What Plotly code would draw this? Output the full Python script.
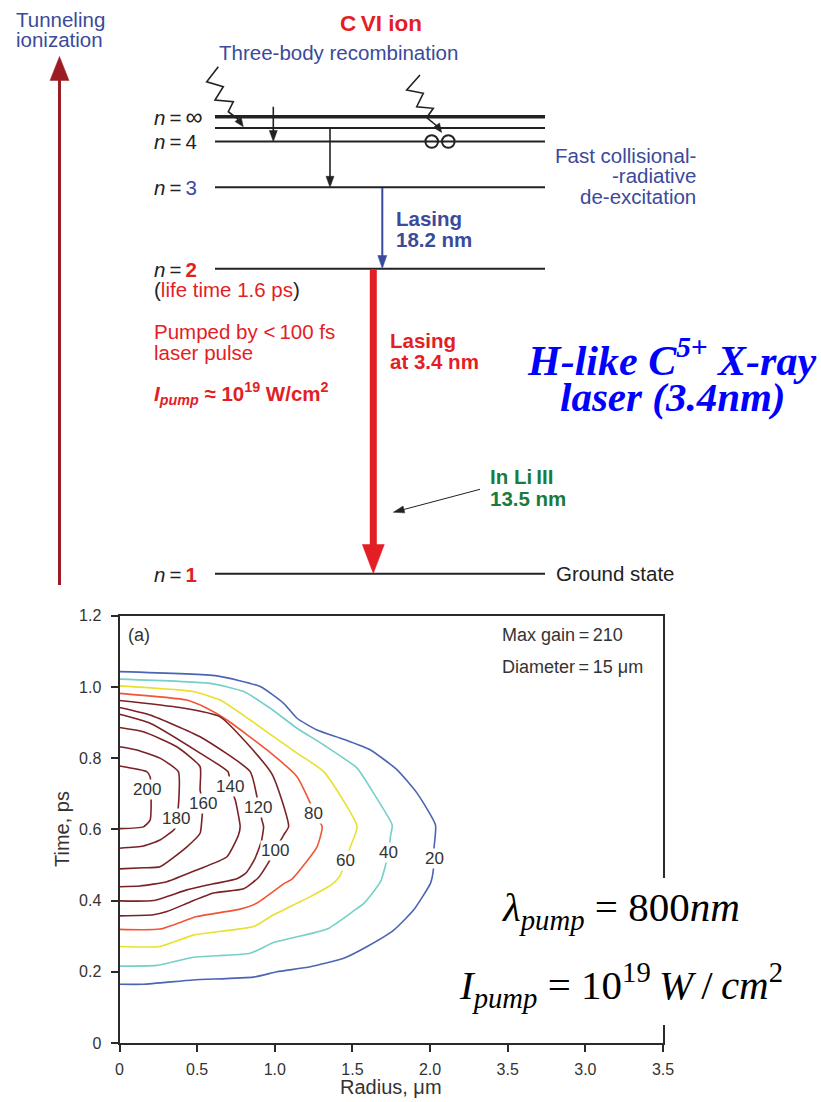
import plotly.graph_objects as go

# ---------------------------------------------------------------------------
# Gain contours (radius in um, time in ps), one closed-to-axis line per level
# ---------------------------------------------------------------------------
levels = [20, 40, 60, 80, 100, 120, 140, 160, 180, 200]

r20 = [0, 0.627, 0.906, 1.057, 1.143, 1.272, 1.444, 1.616, 1.788, 1.917, 2.035, 2.024,
       2.021, 2.003, 1.895, 1.766, 1.595, 1.444, 1.229, 1.014, 0.863, 0.476, 0.154, 0]
t20 = [1.043, 1.031, 1.001, 0.954, 0.912, 0.879, 0.853, 0.823, 0.767, 0.701, 0.612, 0.542,
       0.486, 0.449, 0.374, 0.317, 0.271, 0.238, 0.214, 0.200, 0.185, 0.177, 0.165, 0.165]

r40 = [0, 0.584, 0.799, 0.971, 1.143, 1.315, 1.530, 1.637, 1.756, 1.745, 1.732, 1.681,
       1.573, 1.508, 1.337, 0.992, 0.842, 0.476, 0.240, 0]
t40 = [1.022, 1.010, 0.987, 0.940, 0.884, 0.837, 0.772, 0.701, 0.612, 0.580, 0.534, 0.453,
       0.392, 0.371, 0.320, 0.282, 0.252, 0.241, 0.218, 0.216]

r60 = [0, 0.476, 0.648, 0.842, 1.143, 1.315, 1.530, 1.487, 1.455, 1.423, 1.379, 1.229,
       0.992, 0.863, 0.476, 0.261, 0]
t60 = [1.003, 0.987, 0.963, 0.907, 0.814, 0.762, 0.608, 0.551, 0.509, 0.472, 0.449, 0.411,
       0.360, 0.327, 0.303, 0.271, 0.271]

r80 = [0, 0.434, 0.563, 0.692, 0.950, 1.143, 1.229, 1.250, 1.305, 1.272, 1.113, 1.057,
       0.885, 0.777, 0.498, 0.261, 0]
t80 = [0.982, 0.963, 0.940, 0.907, 0.823, 0.748, 0.673, 0.645, 0.608, 0.551, 0.461, 0.447,
       0.393, 0.376, 0.355, 0.320, 0.319]

r100 = [0, 0.390, 0.648, 0.981, 1.089, 1.057, 1.003, 0.958, 0.894, 0.799, 0.605, 0.455,
        0.305, 0.218, 0]
t100 = [0.962, 0.942, 0.916, 0.756, 0.608, 0.584, 0.542, 0.506, 0.464, 0.433, 0.421, 0.396,
        0.369, 0.360, 0.357]

r120 = [0, 0.197, 0.519, 0.842, 0.885, 0.917, 0.928, 0.913, 0.868, 0.816, 0.756, 0.605,
        0.434, 0.218, 0]
t120 = [0.942, 0.921, 0.860, 0.762, 0.692, 0.626, 0.608, 0.565, 0.514, 0.478, 0.461, 0.447,
        0.430, 0.400, 0.399]

r140 = [0, 0.197, 0.519, 0.700, 0.713, 0.745, 0.777, 0.766, 0.692, 0.498, 0.305, 0.132, 0]
t140 = [0.923, 0.898, 0.814, 0.761, 0.720, 0.683, 0.608, 0.584, 0.523, 0.486, 0.453, 0.441, 0.439]

r160 = [0, 0.154, 0.369, 0.519, 0.519, 0.537, 0.530, 0.519, 0.434, 0.261, 0.154, 0]
t160 = [0.886, 0.874, 0.832, 0.776, 0.711, 0.673, 0.626, 0.589, 0.551, 0.495, 0.492, 0.489]

r180 = [0, 0.111, 0.261, 0.379, 0.379, 0.365, 0.358, 0.261, 0.154, 0]
t180 = [0.832, 0.823, 0.800, 0.762, 0.664, 0.631, 0.603, 0.570, 0.553, 0.547]

r200 = [0, 0.175, 0.197, 0.197, 0.154, 0]
t200 = [0.778, 0.762, 0.748, 0.626, 0.607, 0.602]

# where each level's value is written along its line (radius, time)
label_r = [2.029, 1.730, 1.455, 1.250, 1.003, 0.889, 0.713, 0.537, 0.365, 0.175]
label_t = [0.517, 0.535, 0.512, 0.645, 0.542, 0.662, 0.720, 0.673, 0.631, 0.711]

x_ticks = [0, 0.5, 1.0, 1.5, 2.0, 2.5, 3.0, 3.5]
x_ticktext = ["0", "0.5", "1.0", "1.5", "2.0", "3.5", "3.0", "3.5"]
y_ticks = [0, 0.2, 0.4, 0.6, 0.8, 1.0, 1.2]
y_ticktext = ["0", "0.2", "0.4", "0.6", "0.8", "1.0", "1.2"]

BLUE_LINE = "#4c64b4"
TEAL_LINE = "#76cfc8"
YELLOW_LINE = "#e9e02c"
ORANGE_LINE = "#f25535"
DARKRED_LINE = "#7b2226"
level_colors = [BLUE_LINE, TEAL_LINE, YELLOW_LINE, ORANGE_LINE] + [DARKRED_LINE] * 6

contours = [(r20, t20), (r40, t40), (r60, t60), (r80, t80), (r100, t100),
            (r120, t120), (r140, t140), (r160, t160), (r180, t180), (r200, t200)]

# ---------------------------------------------------------------------------
# Page geometry helpers (pixel positions -> paper fractions)
# ---------------------------------------------------------------------------
W, H = 821, 1102
SANS = "Liberation Sans, Arial, Helvetica, sans-serif"
SERIF = "Liberation Serif, Times New Roman, serif"
TXT_BLUE = "#3b4a9a"
TXT_RED = "#e31e25"
TXT_GREEN = "#1b7a3e"
INK = "#222222"


def X(p):
    return p / W


def Y(p):
    return 1 - p / H


fig = go.Figure()

for (rr, tt), col in zip(contours, level_colors):
    fig.add_trace(go.Scatter(x=rr, y=tt, mode="lines",
                             line=dict(color=col, width=1.6, shape="spline", smoothing=0.5),
                             showlegend=False, hoverinfo="skip"))

for lv, lr, lt in zip(levels, label_r, label_t):
    fig.add_annotation(x=lr, y=lt, xref="x", yref="y", text=str(lv), showarrow=False,
                       bgcolor="white", borderpad=0,
                       font=dict(family=SANS, size=17, color="#333333"))

shapes = []


def seg(x0, y0, x1, y1, color=INK, width=2):
    shapes.append(dict(type="line", xref="paper", yref="paper", x0=X(x0), y0=Y(y0),
                       x1=X(x1), y1=Y(y1), line=dict(color=color, width=width)))


def poly(pts, color=INK, width=1.6, fill=None, closed=False):
    d = "M " + " L ".join(f"{X(a):.5f},{Y(b):.5f}" for a, b in pts)
    if closed:
        d += " Z"
    shape = dict(type="path", xref="paper", yref="paper", path=d,
                 line=dict(color=color, width=width))
    if fill:
        shape["fillcolor"] = fill
    shapes.append(shape)


def head(tx, ty, fx, fy, length, halfw, color):
    dx, dy = tx - fx, ty - fy
    n = (dx * dx + dy * dy) ** 0.5
    ux, uy = dx / n, dy / n
    bx, by = tx - ux * length, ty - uy * length
    px_, py_ = -uy, ux
    poly([(tx, ty), (bx + px_ * halfw, by + py_ * halfw), (bx - px_ * halfw, by - py_ * halfw)],
         color=color, width=0.5, fill=color, closed=True)


def arrow(x0, y0, x1, y1, color=INK, width=1.6, length=10, halfw=4):
    dx, dy = x1 - x0, y1 - y0
    n = (dx * dx + dy * dy) ** 0.5
    seg(x0, y0, x1 - dx / n * (length - 2), y1 - dy / n * (length - 2), color, width)
    head(x1, y1, x0, y0, length, halfw, color)


def note(text, x, y, size=20.5, color=INK, xanchor="left", yanchor="middle",
         family=SANS, angle=0, align="left"):
    fig.add_annotation(text=text, x=X(x), y=Y(y), xref="paper", yref="paper",
                       showarrow=False, xanchor=xanchor, yanchor=yanchor, align=align,
                       textangle=angle, font=dict(family=family, size=size, color=color))


# ---------------------------------------------------------------------------
# Energy-level scheme of the C VI ion
# ---------------------------------------------------------------------------
# tunnelling-ionization arrow on the left
seg(59.5, 585, 59.5, 76, color="#9b1c22", width=3)
head(59.5, 56.5, 59.5, 100, 24, 9.5, "#9b1c22")
note("Tunneling", 14, 19.5, color=TXT_BLUE)
note("ionization", 14, 40, color=TXT_BLUE)

# level lines
LX0, LX1 = 215, 545
seg(LX0, 116.7, LX1, 116.7, width=3.5)
seg(LX0, 128.0, LX1, 128.0, width=2)
seg(LX0, 141.5, LX1, 141.5, width=2)
seg(LX0, 187.3, LX1, 187.3, width=2)
seg(LX0, 268.7, LX1, 268.7, width=2)
seg(LX0, 573.7, LX1, 573.7, width=2)

note("<i>n</i>\u2009=\u2009<span style='font-size:24px'>\u221e</span>", 152, 116.7, color=INK)
note("<i>n</i>\u2009=\u20094", 152, 141.7, color=INK)
note("<i>n</i>\u2009=\u2009<span style='color:%s'>3</span>" % TXT_BLUE, 152, 187, color=INK)
note("<i>n</i>\u2009=\u2009<b><span style='color:%s'>2</span></b>" % TXT_RED, 152, 269.5, color=INK)
note("<i>n</i>\u2009=\u2009<b><span style='color:%s'>1</span></b>" % TXT_RED, 152, 574, color=INK)

note("<b>C\u2009VI ion</b>", 380.5, 23.3, size=22.5, color=TXT_RED, xanchor="center")
note("Three-body recombination", 217, 52.5, color=TXT_BLUE)

# three-body recombination: lightning strokes and cascading arrows
poly([(218.3, 66.7), (206.7, 81.7), (223.3, 86.7), (215, 100), (233.3, 101.7),
      (228.3, 111.7), (238.5, 119.5)], width=1.6)
head(243.3, 126.7, 236, 116.5, 9, 3.8, INK)
poly([(420, 75), (406.7, 90), (423.3, 93.3), (416.7, 106.7), (433.3, 108.3),
      (426.7, 117.7), (437.5, 126.5)], width=1.6)
head(441.7, 132.5, 434.5, 122.5, 9, 3.8, INK)
for cx in (431.7, 448.3):
    shapes.append(dict(type="circle", xref="paper", yref="paper",
                       x0=X(cx - 6.3), x1=X(cx + 6.3), y0=Y(141.5 + 6.3), y1=Y(141.5 - 6.3),
                       line=dict(color=INK, width=2)))
arrow(273.3, 106.7, 273.3, 141.5, width=1.6, length=11, halfw=4)
arrow(330, 128, 330, 187.3, width=1.6, length=11, halfw=4)

note("Fast collisional-", 697.7, 155, color=TXT_BLUE, xanchor="right")
note("-radiative", 697.7, 176, color=TXT_BLUE, xanchor="right")
note("de-excitation", 697.7, 196.7, color=TXT_BLUE, xanchor="right")

# 3 -> 2 lasing (blue)
arrow(382.3, 188, 382.3, 268.5, color=TXT_BLUE, width=2, length=13, halfw=4.5)
note("<b>Lasing</b>", 394, 218, color=TXT_BLUE)
note("<b>18.2 nm</b>", 394, 239.5, color=TXT_BLUE)

# 2 -> 1 lasing (red)
seg(373.3, 269, 373.3, 548, color=TXT_RED, width=7)
head(373.3, 573.5, 373.3, 500, 29, 11, TXT_RED)
note("<b>Lasing</b>", 387.5, 340, color=TXT_RED)
note("<b>at 3.4 nm</b>", 387.5, 361.7, color=TXT_RED)

note("(<span style='color:%s'>life time 1.6 ps</span>)" % TXT_RED, 151.7, 290, color=INK)
note("Pumped by <\u2009100 fs", 152, 331.7, color=TXT_RED)
note("laser pulse", 152, 352.7, color=TXT_RED)
note("<b><i>I</i><sub><i>pump</i></sub> \u2248 10<sup>19</sup> W/cm<sup>2</sup></b>",
     152, 393, color=TXT_RED)

note("<b><i>H-like C<sup>5+</sup> X-ray</i></b>", 671, 357, size=42, color="#0000ff",
     xanchor="center", family=SERIF)
note("<b><i>laser (3.4nm)</i></b>", 673, 397, size=41, color="#0000ff",
     xanchor="center", family=SERIF)

note("<b>In Li\u2009III</b>", 488.3, 476.7, color=TXT_GREEN)
note("<b>13.5 nm</b>", 488.3, 498.3, color=TXT_GREEN)
arrow(480, 489.3, 393.3, 512.3, width=1, length=11, halfw=3.5)

note("Ground state", 554, 573.3, color=INK)

# ---------------------------------------------------------------------------
# Gain map panel annotations
# ---------------------------------------------------------------------------
note("(a)", 126, 635, size=18, color="#333333")
note("Max gain\u2009=\u2009210", 500, 635, size=18, color="#333333")
note("Diameter\u2009=\u200915 \u03bcm", 500, 666.7, size=18, color="#333333")
note("Radius, \u03bcm", 391, 1087, size=20, color="#333333", xanchor="center")
note("Time, ps", 62, 829, size=20, color="#333333", xanchor="center", angle=-90)

# pump parameters on a white card over the panel corner
shapes.append(dict(type="rect", xref="paper", yref="paper", x0=X(452), x1=X(805),
                   y0=Y(1025), y1=Y(878), fillcolor="white", line=dict(width=0),
                   layer="above"))
note("<i>\u03bb</i><sub><i>pump</i></sub> = 800<i>nm</i>", 621, 910, size=41,
     color="black", xanchor="center", family=SERIF)
note("<i>I</i><sub><i>pump</i></sub> = 10<sup>19</sup>\u2009<i>W</i>\u2009/\u2009<i>cm</i><sup>2</sup>",
     621, 985, size=41, color="black", xanchor="center", family=SERIF)

axis_common = dict(showline=True, linewidth=2, linecolor="#2a2a2a", mirror=True,
                   ticks="outside", ticklen=7, tickwidth=2, tickcolor="#2a2a2a",
                   showgrid=False, zeroline=False, automargin=False,
                   tickfont=dict(family=SANS, size=16, color="#333333"))

fig.update_layout(
    width=W, height=H,
    margin=dict(l=0, r=0, t=0, b=0, pad=0, autoexpand=False),
    paper_bgcolor="white", plot_bgcolor="white",
    shapes=shapes,
    xaxis=dict(domain=[X(119.5), X(663)], range=[0, 3.5], tickvals=x_ticks,
               ticktext=x_ticktext, ticklabelstandoff=4, **axis_common),
    yaxis=dict(domain=[Y(1043), Y(615.7)], range=[0, 1.2], tickvals=y_ticks,
               ticktext=y_ticktext, ticklabelstandoff=6, **axis_common),
)

fig.write_html("out.html")
